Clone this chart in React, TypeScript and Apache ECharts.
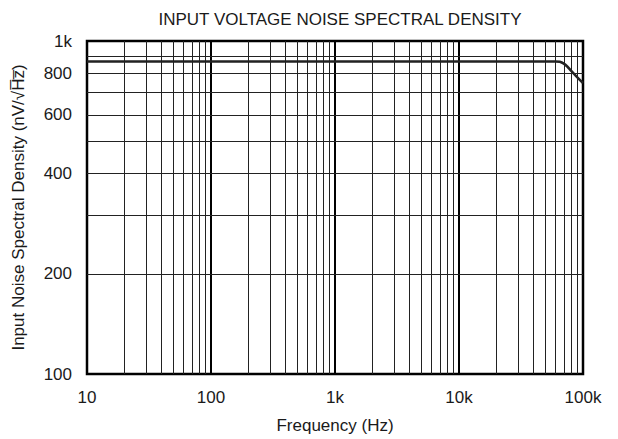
import React, { useEffect, useRef } from "react";
import * as echarts from "echarts";

// Frequency (Hz) and input noise spectral density (nV/√Hz)
const frequencies = [10, 100, 1000, 10000, 50000, 60000, 65000, 70000, 75000, 80000, 90000, 100000];
const noiseDensity = [868, 868, 868, 868, 868, 868, 866, 855, 837, 815, 778, 748];

const yLabelledTicks = [200, 400, 600, 800];
const yUnlabelledTicks = [300, 500, 700, 900];
const minorMultipliers = [2, 3, 4, 5, 6, 7, 8, 9];
const decades = [10, 100, 1000, 10000];

const FONT = "'Liberation Sans', Arial, Helvetica, sans-serif";
const TEXT = "#1a1a1a";

function fmt(v: number): string {
  if (v >= 1000) return v / 1000 + "k";
  return String(v);
}

export default function App() {
  const ref = useRef<HTMLDivElement>(null);
  useEffect(() => {
    if (!ref.current) return;
    const chart = echarts.init(ref.current, null, { renderer: "svg" });

    const xMinor: any[] = [];
    decades.forEach((d) =>
      minorMultipliers.forEach((m) => xMinor.push({ xAxis: d * m, label: { show: false } }))
    );

    const yLines: any[] = [
      ...yUnlabelledTicks.map((v) => ({ yAxis: v, label: { show: false } })),
      ...yLabelledTicks.map((v) => ({
        yAxis: v,
        label: {
          show: true,
          position: "start",
          distance: 15,
          formatter: fmt(v),
          fontSize: 17,
          fontFamily: FONT,
          color: TEXT,
        },
      })),
    ];

    chart.setOption({
      animation: false,
      backgroundColor: "#ffffff",
      title: {
        text: "INPUT VOLTAGE NOISE SPECTRAL DENSITY",
        left: 335,
        textAlign: "center",
        top: 6,
        textStyle: { fontSize: 17, fontWeight: "normal", fontFamily: FONT, color: TEXT },
      },
      grid: {
        left: 87,
        right: 35,
        top: 41,
        bottom: 56,
        show: true,
        borderColor: "#000",
        borderWidth: 2.5,
        backgroundColor: "transparent",
      },
      xAxis: {
        type: "log",
        logBase: 10,
        min: 10,
        max: 100000,
        name: "Frequency (Hz)",
        nameLocation: "middle",
        nameGap: 43,
        nameTextStyle: { fontSize: 17, fontFamily: FONT, color: TEXT },
        axisLine: { show: false },
        axisTick: { show: false },
        axisLabel: {
          fontSize: 17,
          fontFamily: FONT,
          color: TEXT,
          margin: 15,
          formatter: (v: number) => fmt(v),
        },
        splitLine: { show: true, lineStyle: { color: "#000", width: 2 } },
        minorTick: { show: false },
        minorSplitLine: { show: false },
      },
      yAxis: {
        type: "log",
        logBase: 10,
        min: 100,
        max: 1000,
        name: "Input Noise Spectral Density (nV/\u221AH\u0305z\u0305)",
        nameLocation: "middle",
        nameGap: 60,
        nameTextStyle: { fontSize: 17, fontFamily: FONT, color: TEXT },
        axisLine: { show: false },
        axisTick: { show: false },
        axisLabel: {
          fontSize: 17,
          fontFamily: FONT,
          color: TEXT,
          margin: 15,
          formatter: (v: number) => fmt(v),
        },
        splitLine: { show: false },
      },
      series: [
        {
          type: "line",
          data: [],
          silent: true,
          z: 1,
          markLine: {
            silent: true,
            symbol: "none",
            animation: false,
            label: { show: false },
            lineStyle: { type: "solid", color: "#222", width: 1 },
            data: [...xMinor, ...yLines],
          },
        },
        {
          type: "line",
          z: 5,
          data: frequencies.map((f, i) => [f, noiseDensity[i]]),
          showSymbol: false,
          smooth: 0.3,
          lineStyle: { color: "#222", width: 2.5 },
          silent: true,
        },
      ],
    });
    return () => chart.dispose();
  }, []);
  return (
    <div
      ref={ref}
      style={{ position: "fixed", left: 0, top: 0, width: 618, height: 439, background: "#fff" }}
    />
  );
}
